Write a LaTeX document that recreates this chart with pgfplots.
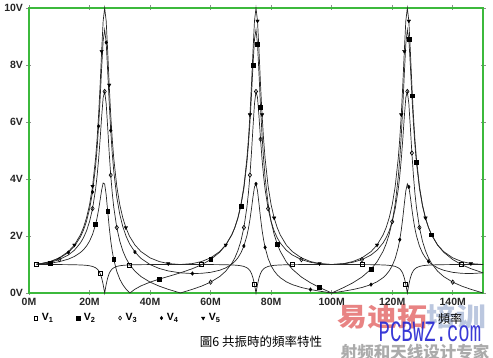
\documentclass[border=0pt]{standalone}
\usepackage{pgfplots}
\pgfplotsset{compat=1.18}
\usepackage{pgfplotstable}
\usepackage{fontspec}
\setmainfont{Liberation Sans}
\newfontfamily\cjk{Noto Sans CJK TC}
\newfontfamily\cjksc{Noto Sans CJK SC}
\newfontfamily\wmmono{Liberation Mono}
\definecolor{axgreen}{RGB}{60,185,60}
\definecolor{wmred}{RGB}{226,100,100}
\definecolor{wmpale}{RGB}{170,185,215}
\definecolor{wmblue}{RGB}{35,35,210}
\definecolor{wmgrey}{RGB}{150,150,150}

\pgfplotstableread{
f v1 v2 v3 v4 v5
2.5 0.9999 1.0054 1.0093 1.0116 1.0124
4 0.9997 1.0138 1.0240 1.0301 1.0320
7 0.9989 1.0444 1.0774 1.0973 1.1040
10 0.9974 1.0984 1.1725 1.2176 1.2330
13 0.9944 1.1884 1.3331 1.4224 1.4530
15 0.9907 1.2816 1.5017 1.6388 1.6850
17 0.9839 1.4212 1.7578 1.9698 2.0420
18 0.9782 1.5192 1.9397 2.2061 2.2970
19 0.9695 1.6467 2.1783 2.5173 2.6340
20 0.9558 1.8180 2.5022 2.9415 3.0930
21 0.9318 2.0571 2.9606 3.5449 3.7470
22 0.8857 2.4060 3.6419 4.4471 4.7270
22.5 0.8455 2.6410 4.1101 5.0710 5.4050
23 0.7841 2.9273 4.6926 5.8520 6.2560
23.5 0.6869 3.2626 5.3988 6.8076 7.2990
24 0.5325 3.6110 6.1824 7.8855 8.4810
24.5 0.2998 3.8593 6.8544 8.8465 9.5450
25 0 3.8268 7.0711 9.2388 10.000
25.5 0.2998 3.4438 6.6423 8.7892 9.5450
26 0.5325 2.8729 5.8057 7.7835 8.4810
26.5 0.6869 2.3101 4.9125 6.6760 7.2990
27 0.7841 1.8395 4.1371 5.7016 6.2560
27.5 0.8455 1.4672 3.5104 4.9086 5.4050
28 0.8857 1.1755 3.0128 4.2768 4.7270
29 0.9318 0.7598 2.2965 3.3648 3.7470
30 0.9558 0.4838 1.8180 2.7558 3.0930
31 0.9695 0.2890 1.4804 2.3276 2.6340
32 0.9782 0.1443 1.2310 2.0132 2.2970
33 0.9839 0.0321 1.0396 1.7739 2.0420
33.333 0.9853 0 0.9853 1.7067 1.9707
35 0.9907 0.1322 0.7652 1.4370 1.6850
37 0.9944 0.2497 0.5769 1.2141 1.4530
40 0.9974 0.3810 0.3810 0.9974 1.2330
43 0.9989 0.4857 0.2408 0.8616 1.1040
46 0.9997 0.5801 0.1294 0.7742 1.0320
50 1 0.7071 0 0.7071 1
54 0.9997 0.8536 0.1294 0.6825 1.0320
57 0.9989 0.9914 0.2408 0.6902 1.1040
60 0.9974 1.1725 0.3810 0.7246 1.2330
63 0.9944 1.4310 0.5769 0.7975 1.4530
65 0.9907 1.6802 0.7652 0.8806 1.6850
67 0.9839 2.0420 1.0396 1.0118 2.0420
68 0.9782 2.2928 1.2310 1.1067 2.2970
69 0.9695 2.6178 1.4804 1.2324 2.6340
70 0.9558 3.0548 1.8180 1.4041 3.0930
71 0.9318 3.6690 2.2965 1.6484 3.7470
72 0.8857 4.5781 3.0128 2.0125 4.7270
72.5 0.8455 5.2022 3.5104 2.2629 5.4050
73 0.7841 5.9793 4.1371 2.5743 6.2560
73.5 0.6869 6.9241 4.9125 2.9514 7.2990
74 0.5325 7.9796 5.8057 3.3682 8.4810
74.5 0.2998 8.9018 6.6423 3.7218 9.5450
75 0 9.2388 7.0711 3.8268 10.000
75.5 0.2998 8.7297 6.8544 3.5833 9.5450
76 0.5325 7.6739 6.1824 3.1221 8.4810
76.5 0.6869 6.5295 5.3988 2.6336 7.2990
77 0.7841 5.5287 4.6926 2.2113 6.2560
77.5 0.8455 4.7159 4.1101 1.8708 5.4050
78 0.8857 4.0684 3.6419 1.6011 4.7270
79 0.9318 3.1316 2.9606 1.2137 3.7470
80 0.9558 2.5022 2.5022 0.9558 3.0930
81 0.9695 2.0554 2.1783 0.7744 2.6340
82 0.9782 1.7232 1.9397 0.6409 2.2970
83 0.9839 1.4666 1.7578 0.5389 2.0420
85 0.9907 1.0946 1.5017 0.3935 1.6850
87 0.9944 0.8353 1.3331 0.2946 1.4530
90 0.9974 0.5597 1.1725 0.1929 1.2330
93 0.9989 0.3576 1.0774 0.1211 1.1040
96 0.9997 0.1934 1.0240 0.0648 1.0320
100 1 0 1 0 1
104 0.9997 0.1934 1.0240 0.0648 1.0320
107 0.9989 0.3576 1.0774 0.1211 1.1040
110 0.9974 0.5597 1.1725 0.1929 1.2330
113 0.9944 0.8353 1.3331 0.2946 1.4530
115 0.9907 1.0946 1.5017 0.3935 1.6850
117 0.9839 1.4666 1.7578 0.5389 2.0420
118 0.9782 1.7232 1.9397 0.6409 2.2970
119 0.9695 2.0554 2.1783 0.7744 2.6340
120 0.9558 2.5022 2.5022 0.9558 3.0930
121 0.9318 3.1316 2.9606 1.2137 3.7470
122 0.8857 4.0684 3.6419 1.6011 4.7270
122.5 0.8455 4.7159 4.1101 1.8708 5.4050
123 0.7841 5.5287 4.6926 2.2113 6.2560
123.5 0.6869 6.5295 5.3988 2.6336 7.2990
124 0.5325 7.6739 6.1824 3.1221 8.4810
124.5 0.2998 8.7297 6.8544 3.5833 9.5450
125 0 9.2388 7.0711 3.8268 10
125.5 0.2998 8.9018 6.6423 3.7218 9.5450
126 0.5325 7.9796 5.8057 3.3682 8.4810
126.5 0.6869 6.9241 4.9125 2.9514 7.2990
127 0.7841 5.9793 4.1371 2.5743 6.2560
127.5 0.8455 5.2022 3.5104 2.2629 5.4050
128 0.8857 4.5781 3.0128 2.0125 4.7270
129 0.9318 3.6690 2.2965 1.6484 3.7470
130 0.9558 3.0548 1.8180 1.4041 3.0930
131 0.9695 2.6178 1.4804 1.2324 2.6340
132 0.9782 2.2928 1.2310 1.1067 2.2970
133 0.9839 2.0420 1.0396 1.0118 2.0420
135 0.9907 1.6802 0.7652 0.8806 1.6850
137 0.9944 1.4310 0.5769 0.7975 1.4530
140 0.9974 1.1725 0.3810 0.7246 1.2330
143 0.9989 0.9914 0.2408 0.6902 1.1040
146 0.9997 0.8536 0.1294 0.6825 1.0320
150 1 0.7071 0 0.7071 1
}\datatable

\begin{document}
\begin{tikzpicture}
\path[use as bounding box] (-29pt,-65pt) rectangle (464pt,293pt);
% watermark
\node[font=\cjksc\bfseries\fontsize{26}{26}\selectfont, xscale=1.15, opacity=0.8] at (383pt,-24pt) {\textcolor{wmred}{易迪拓}\textcolor{wmpale}{培训}};
\node[text=wmblue, font=\wmmono\fontsize{19}{19}\selectfont, yscale=1.55, opacity=0.9] at (401pt,-39pt) {PCBWZ.com};
\node[text=wmgrey, font=\cjksc\bfseries\fontsize{16.5}{16.5}\selectfont, opacity=0.8] at (386pt,-59pt) {射频和天线设计专家};
\begin{axis}[
  at={(0pt,0pt)}, anchor=south west,
  scale only axis, width=454pt, height=285pt,
  xmin=0, xmax=150, ymin=0, ymax=10,
  axis line style={axgreen, line width=1.6pt},
  xtick={0,20,40,60,80,100,120,140},
  xticklabels={0M,20M,40M,60M,80M,100M,120M,140M},
  ytick={0,2,4,6,8,10},
  yticklabels={0V,2V,4V,6V,8V,10V},
  tick align=center, major tick length=5pt,
  tick style={black!45, line width=0.7pt},
  ticklabel style={font=\bfseries\fontsize{10.5}{11}\selectfont, text=black!85},
  xticklabel style={yshift=1pt},
  clip=false,
  legend style={at={(0.011,-0.088)}, anchor=west, draw=none, fill=none,
    inner sep=0pt, legend columns=5,
    font=\bfseries\fontsize{10.5}{11}\selectfont,
    /tikz/every even column/.append style={column sep=21pt},
    /tikz/every odd column/.append style={column sep=2pt}},
  legend image code/.code={\draw[mark repeat=2,mark phase=2,#1] plot coordinates {(0pt,0pt)(5pt,0pt)(10pt,0pt)};},
]
\addlegendimage{only marks, mark=square, mark size=1.8pt, black, mark options={line width=0.6pt}}
\addlegendentry{V\textsubscript{1}}
\addlegendimage{only marks, mark=square*, mark size=1.8pt, black}
\addlegendentry{V\textsubscript{2}}
\addlegendimage{only marks, mark=diamond, mark size=2pt, black, mark options={line width=0.6pt}}
\addlegendentry{V\textsubscript{3}}
\addlegendimage{only marks, mark=diamond*, mark size=1.8pt, black}
\addlegendentry{V\textsubscript{4}}
\addlegendimage{only marks, mark=triangle*, mark size=2pt, black, mark options={rotate=180}}
\addlegendentry{V\textsubscript{5}}

\addplot[forget plot, black!85, line width=0.7pt, no marks] table[x=f,y=v1] {\datatable};
\addplot[forget plot, black!85, line width=0.7pt, no marks] table[x=f,y=v2] {\datatable};
\addplot[forget plot, black!85, line width=0.7pt, no marks] table[x=f,y=v3] {\datatable};
\addplot[forget plot, black!85, line width=0.7pt, no marks] table[x=f,y=v4] {\datatable};
\addplot[forget plot, black!85, line width=0.7pt, no marks] table[x=f,y=v5] {\datatable};

\addplot[forget plot, only marks, mark=square, mark size=2pt, black, mark options={fill=white, line width=0.7pt}] coordinates {
(2.5,0.9999) (23.5,0.6869) (33,0.9839) (57,0.9989) (74.5,0.2998) (87,0.9944) (110,0.9974) (124.5,0.2998) (143,0.9989)};
\addplot[forget plot, only marks, mark=square*, mark size=1.9pt, black] coordinates {
(7,1.0444) (22,2.4060) (26,2.8729) (28,1.1755) (43,0.4857) (60,1.1725) (70,3.0548) (74,7.9796) (75.5,8.7297) (76.5,6.5295) (82,1.7232) (96,0.1934) (113,0.8353) (125.5,8.9018) (126.5,6.9241) (128,4.5781) (133,2.0420)};
\addplot[forget plot, only marks, mark=diamond, mark size=2.2pt, black, mark options={fill=white, line width=0.6pt}] coordinates {
(10,1.1725) (21,2.9606) (25,7.0711) (27,4.1371) (29,2.2965) (60,0.3810) (71,2.2965) (73,4.1371) (75,7.0711) (76.5,5.3988) (79,2.9606) (90,1.1725) (110,1.1725) (120,2.5022) (125,7.0711) (126.5,4.9125) (129,2.2965) (140,0.3810)};
\addplot[forget plot, only marks, mark=diamond*, mark size=1.8pt, black] coordinates {
(13,1.4224) (21,3.5449) (23,5.8520) (25.5,8.7892) (27,5.7016) (35,1.4370) (54,0.6825) (71,1.6484) (75,3.8268) (78,1.6011) (93,0.1211) (113,0.2946) (122.5,1.8708) (125.5,3.7218) (132,1.1067)};
\addplot[forget plot, only marks, mark=triangle*, mark size=2pt, black, mark options={rotate=180}] coordinates {
(15,1.6850) (21,3.7470) (24,8.4810) (26.5,7.2990) (32,2.2970) (46,1.0320) (65,1.6850) (73,6.2560) (75.5,9.5450) (77,6.2560) (81,2.6340) (96,1.0320) (115,1.6850) (123,6.2560) (124,8.4810) (125.5,9.5450) (131,2.6340) (146,1.0320)};
\end{axis}
\node[font=\cjk\fontsize{12.5}{12.5}\selectfont] at (232pt,-49pt) {圖6 共振時的頻率特性};
\node[font=\cjk\fontsize{12}{12}\selectfont] at (421pt,-26pt) {頻率};
\end{tikzpicture}
\end{document}
